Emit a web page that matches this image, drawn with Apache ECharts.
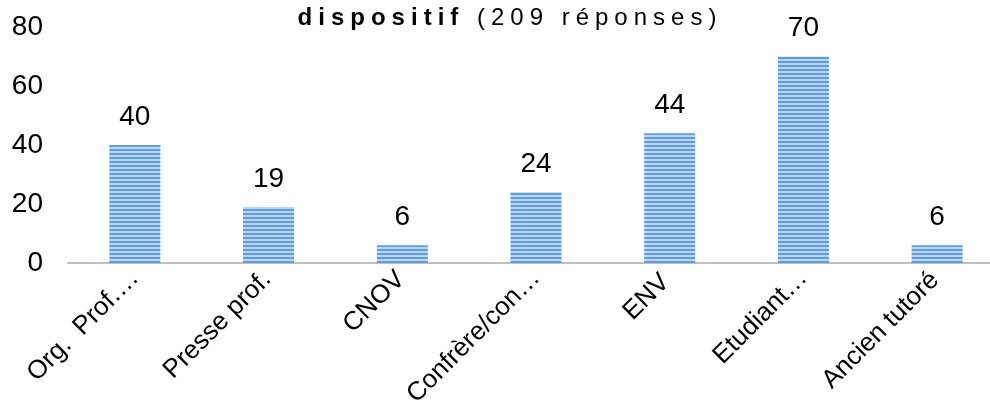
<!DOCTYPE html>
<html>
<head>
<meta charset="utf-8">
<script src="https://cdn.jsdelivr.net/npm/echarts@6/dist/echarts.min.js"></script>
<style>html,body{margin:0;padding:0;background:#fff;}#c{width:990px;height:404px;}</style>
</head>
<body>
<div id="c"></div>
<script>
const categories = ['Org.  Prof.…', 'Presse prof.', 'CNOV', 'Confrère/con…', 'ENV', 'Etudiant…', 'Ancien tutoré'];
const values = [40, 19, 6, 24, 44, 70, 6];
const yTicks = [0, 20, 40, 60, 80];
const titleBold = 'dispositif';
const titleRest = ' (209 réponses)';
// per-label shift of the rotated category labels along the text direction (style only)
const labelPadRight = [0, 2, 2, 0, 6, 0, 3];

// letter-spacing for the title font only (marker family "Spaced")
(function(){
  const proto = CanvasRenderingContext2D.prototype;
  const of = proto.fillText, om = proto.measureText;
  function ap(ctx){ if ('letterSpacing' in ctx) ctx.letterSpacing = /Spaced/.test(ctx.font) ? '6px' : '0px'; }
  proto.fillText = function(){ ap(this); return of.apply(this, arguments); };
  proto.measureText = function(){ ap(this); return om.apply(this, arguments); };
})();

const pc = document.createElement('canvas');
pc.width = 4; pc.height = 4;
const pctx = pc.getContext('2d');
pctx.fillStyle = '#bcd6f2'; pctx.fillRect(0, 0, 4, 4);
pctx.fillStyle = '#5e9cdb'; pctx.fillRect(0, 1, 4, 2);

const chart = echarts.init(document.getElementById('c'), null, {renderer: 'canvas'});
const FF = 'Liberation Sans, Arial, sans-serif';
const TF = 'Liberation Sans, Spaced';
chart.setOption({
  animation: false,
  title: {
    text: '{b|' + titleBold + '}{n|' + titleRest + '}',
    left: 505, textAlign: 'center', top: -2,
    textStyle: {
      fontFamily: TF, fontSize: 24, fontWeight: 'normal', color: '#000',
      rich: {
        b: { fontFamily: TF, fontSize: 24, fontWeight: 'bold', color: '#000' },
        n: { fontFamily: TF, fontSize: 24, fontWeight: 'normal', color: '#000' }
      }
    }
  },
  grid: { left: 68, top: 27, width: 936, bottom: 141, containLabel: false, outerBoundsMode: 'none' },
  xAxis: {
    type: 'category',
    data: categories.map((c, i) => ({ value: c, textStyle: { padding: [0, labelPadRight[i], 0, 0] } })),
    axisLine: { show: true, lineStyle: { color: '#bfbfbf', width: 2 } },
    axisTick: { show: false },
    axisLabel: { rotate: 45, interval: 0, margin: 11, verticalAlign: 'top', fontFamily: FF, fontSize: 26, color: '#000' }
  },
  yAxis: {
    type: 'value', min: yTicks[0], max: yTicks[yTicks.length - 1], interval: 20,
    axisLine: { show: false }, axisTick: { show: false }, splitLine: { show: false },
    axisLabel: { margin: 25, fontFamily: FF, fontSize: 28, color: '#000' }
  },
  series: [{
    type: 'bar', data: values, barWidth: 51,
    itemStyle: { color: { image: pc, repeat: 'repeat' } },
    label: { show: true, position: 'top', distance: 14, fontFamily: FF, fontSize: 28, color: '#000' }
  }]
});
</script>
</body>
</html>
